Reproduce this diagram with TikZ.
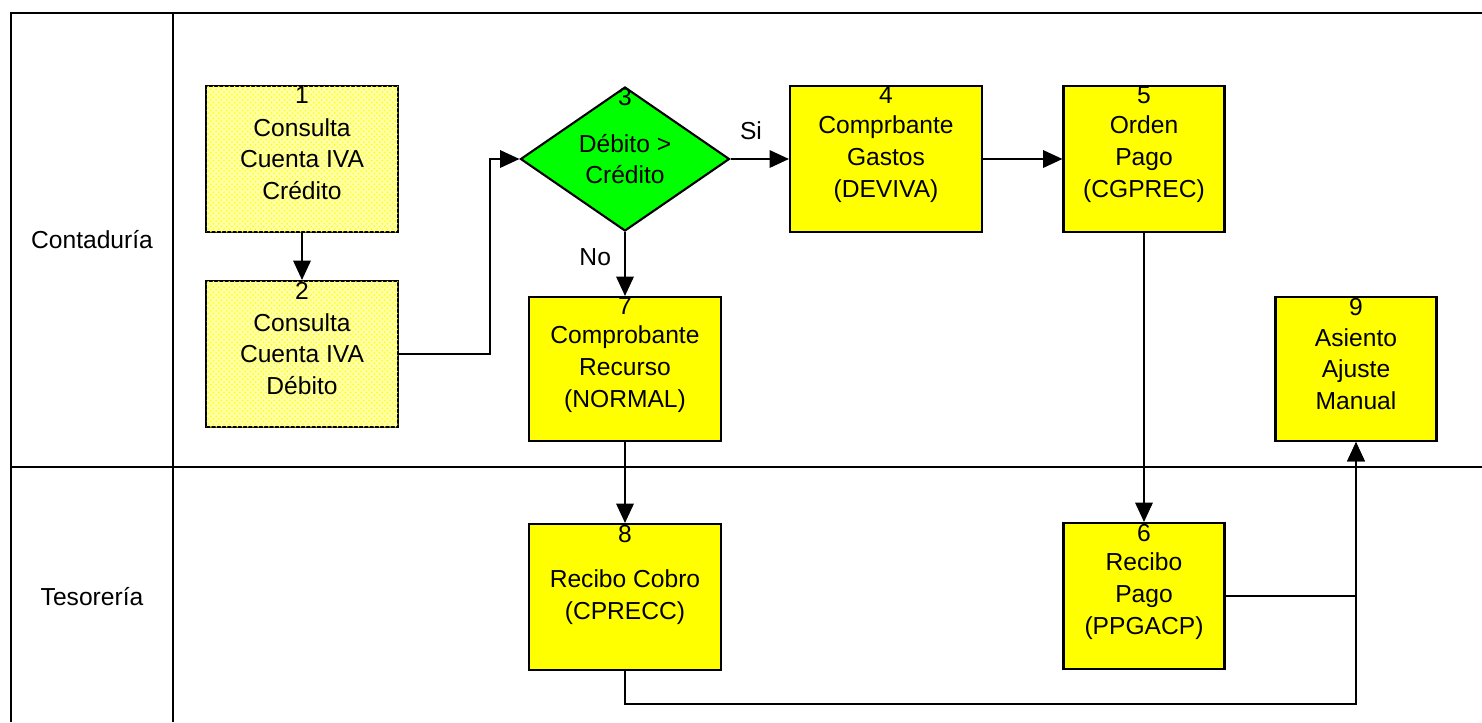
\documentclass[tikz,border=0pt]{standalone}
\usepackage{fontspec}
\setmainfont{Liberation Sans}
\usepackage{tikz}
\usetikzlibrary{shapes.geometric,arrows.meta,patterns}

\definecolor{procYellow}{RGB}{255,255,0}
\definecolor{decGreen}{RGB}{0,255,0}

\begin{document}
\begin{tikzpicture}[x=0.2mm,y=-0.2mm,
    every node/.style={font=\fontsize{14}{18}\selectfont, align=center},
    proc/.style={draw, line width=1.2pt, fill=procYellow,
        minimum width=3.84cm, minimum height=2.92cm, inner sep=0pt},
    hatched/.style={fill=procYellow!35, postaction={pattern=crosshatch dots, pattern color=procYellow}},
    decision/.style={diamond, draw, line width=1.2pt, fill=decGreen,
        minimum width=4.18cm, minimum height=2.88cm, inner sep=0pt},
    num/.style={anchor=north, inner sep=1pt},
    flow/.style={line width=0.8pt, -{Triangle[length=11pt,width=10pt]}},
    lane/.style={line width=1.1pt}]
    %
    % bounding box
    \useasboundingbox (0,0) rectangle (1482,722);
    %
    % swimlanes
    \draw[lane] (11,722) |- (1482,13);
    \draw[lane] (173,13) -- (173,722);
    \draw[lane] (11,467) -- (1482,467);
    \node (laneCont) at (92,240) {Contaduría};
    \node (laneTes)  at (92,597) {Tesorería};
    %
    % steps
    \node[proc, hatched, label={[num]north:1}] (n1) at (302,159) {Consulta\\Cuenta IVA\\Crédito};
    \node[proc, hatched, label={[num]north:2}] (n2) at (302,354) {Consulta\\Cuenta IVA\\Débito};
    \node[decision, label={[num]north:3}] (n3) at (625,159) {Débito >\\Crédito};
    \node[proc, label={[num]north:4}] (n4) at (886,159) {Comprbante\\Gastos\\(DEVIVA)};
    \node[proc, minimum width=3.22cm, label={[num]north:5}] (n5) at (1144,159) {Orden\\Pago\\(CGPREC)};
    \node[proc, minimum width=3.22cm, label={[num]north:6}] (n6) at (1144,596) {Recibo\\Pago\\(PPGACP)};
    \node[proc, minimum height=2.88cm, label={[num]north:7}] (n7) at (625,369) {Comprobante\\Recurso\\(NORMAL)};
    \node[proc, label={[num]north:8}] (n8) at (625,597) {Recibo Cobro\\(CPRECC)};
    \node[proc, minimum width=3.22cm, minimum height=2.88cm, label={[num]north:9}] (n9) at (1356,369) {Asiento\\Ajuste\\Manual};
    %
    % connectors
    \draw[flow] (n1) -- (n2);
    \draw[flow] (n2.east) -- ++(91,0) |- (n3.west);
    \draw[flow] (n3.east) -- node[pos=0.35, above=0.25cm] {Si} (n4.west);
    \draw[flow] (n3.south) -- node[left=0.15cm, pos=0.4] {No} (n7.north);
    \draw[flow] (n4) -- (n5);
    \draw[flow] (n5) -- (n6);
    \draw[flow] (n7) -- (n8);
    \draw[flow] (n6.east) -| (n9.south);
    \draw[flow] (n8.south) -- ++(0,33) -| (n9.south);
\end{tikzpicture}
\end{document}
